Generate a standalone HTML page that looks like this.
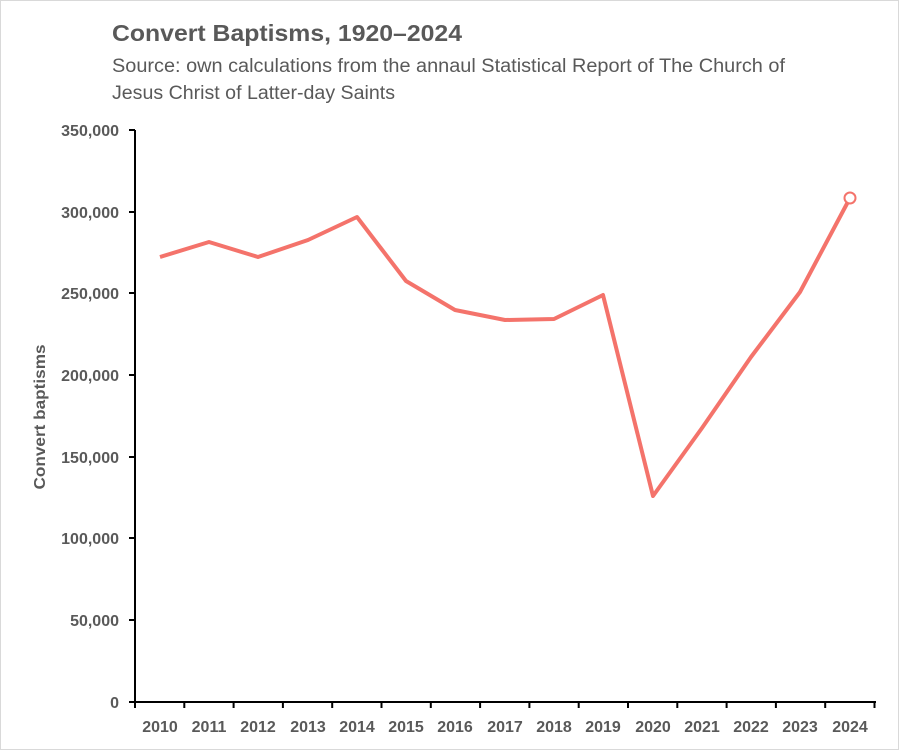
<!DOCTYPE html>
<html><head><style>
body{margin:0;background:#fff}
.f{position:absolute;left:0;top:0;width:897px;height:748px;border:1px solid #d9d9d9;background:#fff}
</style></head><body>
<div class="f"></div>
<svg width="899" height="750" style="position:absolute;left:0;top:0" font-family="Liberation Sans, sans-serif">
<text x="112" y="41" font-size="23" font-weight="bold" fill="#595959" textLength="350" lengthAdjust="spacingAndGlyphs">Convert Baptisms, 1920–2024</text>
<text x="112" y="72" font-size="19" fill="#595959" textLength="673" lengthAdjust="spacingAndGlyphs">Source: own calculations from the annaul Statistical Report of The Church of</text>
<text x="112" y="99" font-size="19" fill="#595959" textLength="283" lengthAdjust="spacingAndGlyphs">Jesus Christ of Latter-day Saints</text>
<g stroke="#000" stroke-width="2" fill="none">
<line x1="135" y1="130" x2="135" y2="703"/>
<line x1="134" y1="702" x2="876" y2="702"/>
<path d="M129 130H135M129 212H135M129 293H135M129 375H135M129 457H135M129 538H135M129 620H135M129 702H135"/>
<path d="M135 702v6M184.3 702v6M233.6 702v6M282.9 702v6M332.2 702v6M381.5 702v6M430.8 702v6M480.1 702v6M529.4 702v6M578.7 702v6M628 702v6M677.3 702v6M726.6 702v6M775.9 702v6M825.2 702v6M874.5 702v6"/>
</g>
<g font-size="16" font-weight="bold" fill="#595959" text-anchor="end">
<text x="119" y="136">350,000</text><text x="119" y="218">300,000</text><text x="119" y="299">250,000</text><text x="119" y="381">200,000</text><text x="119" y="463">150,000</text><text x="119" y="544">100,000</text><text x="119" y="626">50,000</text><text x="119" y="708">0</text>
</g>
<g font-size="16" font-weight="bold" fill="#595959" text-anchor="middle">
<text x="160" y="732">2010</text><text x="209" y="732">2011</text><text x="258" y="732">2012</text><text x="308" y="732">2013</text><text x="357" y="732">2014</text><text x="406" y="732">2015</text><text x="455" y="732">2016</text><text x="505" y="732">2017</text><text x="554" y="732">2018</text><text x="603" y="732">2019</text><text x="653" y="732">2020</text><text x="702" y="732">2021</text><text x="751" y="732">2022</text><text x="800" y="732">2023</text><text x="850" y="732">2024</text>
</g>
<text transform="translate(45 417) rotate(-90)" font-size="16" font-weight="bold" fill="#595959" text-anchor="middle" textLength="145" lengthAdjust="spacingAndGlyphs">Convert baptisms</text>
<polyline fill="none" stroke="#f4736b" stroke-width="4" stroke-linejoin="round" points="160,257 209,242 258,257 308,240 357,217 406,281 455,310 505,320 554,319 603,295 653,496 702,428 751,357 800,292 850,198"/>
<circle cx="850" cy="198" r="5.5" fill="#fff" stroke="#f4736b" stroke-width="2"/>
</svg>
</body></html>
